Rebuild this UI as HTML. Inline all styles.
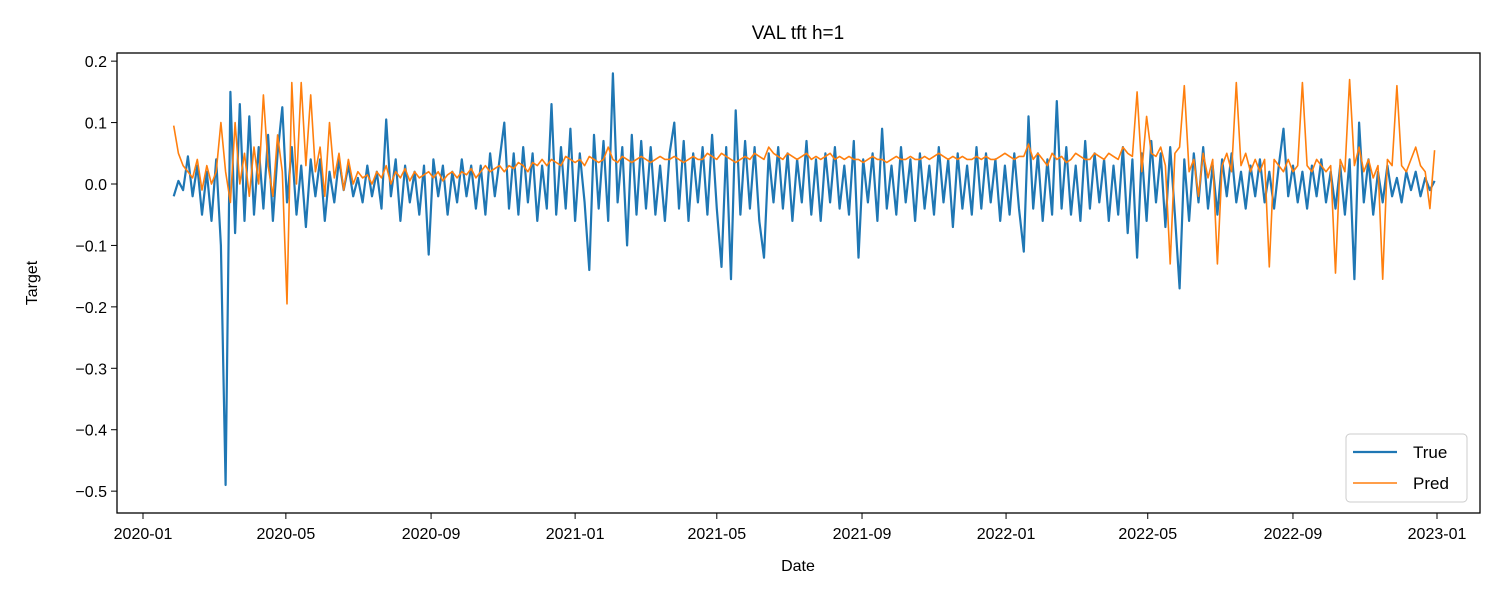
<!DOCTYPE html>
<html><head><meta charset="utf-8"><style>
html,body{margin:0;padding:0;background:#fff;}
svg text{font-family:"Liberation Sans","DejaVu Sans",sans-serif;fill:#000;}
</style></head><body>
<svg id="chart" width="1500" height="600" xmlns="http://www.w3.org/2000/svg">
<rect x="0" y="0" width="1500" height="600" fill="#fff"/>
<text x="798" y="39" font-size="19" text-anchor="middle">VAL tft h=1</text>
<g id="plot"></g>
<rect x="117" y="53" width="1363" height="460" fill="none" stroke="#000" stroke-width="1.3"/>
<g id="xticks"></g><g id="yticks"></g>
<text x="798" y="571" font-size="16" text-anchor="middle">Date</text>
<text transform="translate(37,283) rotate(-90)" font-size="16" text-anchor="middle">Target</text>
<g>
<rect x="1346" y="434" width="121" height="68" rx="4" fill="#fff" fill-opacity="0.85" stroke="#ccc" stroke-width="1"/>
<line x1="1353" y1="452" x2="1397" y2="452" stroke="#1f77b4" stroke-width="2.2"/>
<text x="1413" y="458" font-size="17">True</text>
<line x1="1353" y1="483" x2="1397" y2="483" stroke="#ff7f0e" stroke-width="1.6"/>
<text x="1413" y="489" font-size="17">Pred</text>
</g>
</svg>
<script>
const startDay = 26; // days after 2020-01-01
const stepDays = 4;
const xTickLabels = ["2020-01","2020-05","2020-09","2021-01","2021-05","2021-09","2022-01","2022-05","2022-09","2023-01"];
const xTickDays = [0,121,244,366,486,609,731,851,974,1096];
const yTickValues = [0.2,0.1,0.0,-0.1,-0.2,-0.3,-0.4,-0.5];
const trueValues = [
-0.02,0.005,-0.01,0.045,-0.02,0.03,-0.05,0.02,-0.06,0.04,
-0.1,-0.49,0.15,-0.08,0.13,-0.06,0.11,-0.05,0.06,-0.04,
0.08,-0.06,0.05,0.125,-0.03,0.06,-0.05,0.03,-0.07,0.04,
-0.02,0.04,-0.06,0.02,-0.03,0.04,-0.01,0.03,-0.02,0.01,
-0.03,0.03,-0.02,0.02,-0.04,0.105,-0.02,0.04,-0.06,0.03,
-0.03,0.02,-0.05,0.03,-0.115,0.04,-0.02,0.03,-0.05,0.02,
-0.03,0.04,-0.02,0.03,-0.04,0.03,-0.05,0.05,-0.02,0.04,
0.1,-0.04,0.05,-0.05,0.06,-0.03,0.05,-0.06,0.03,-0.04,
0.13,-0.05,0.06,-0.04,0.09,-0.06,0.05,-0.03,-0.14,0.08,
-0.04,0.07,-0.06,0.18,-0.03,0.06,-0.1,0.08,-0.05,0.07,
-0.04,0.06,-0.05,0.03,-0.06,0.05,0.1,-0.04,0.07,-0.06,
0.05,-0.03,0.06,-0.05,0.08,-0.04,-0.135,0.06,-0.155,0.12,
-0.05,0.07,-0.04,0.06,-0.06,-0.12,0.05,-0.03,0.06,-0.04,
0.05,-0.06,0.04,-0.03,0.07,-0.05,0.04,-0.06,0.05,-0.03,
0.06,-0.04,0.03,-0.05,0.07,-0.12,0.04,-0.03,0.05,-0.06,
0.09,-0.04,0.03,-0.05,0.06,-0.03,0.04,-0.06,0.05,-0.04,
0.03,-0.05,0.06,-0.03,0.04,-0.07,0.05,-0.04,0.03,-0.05,
0.06,-0.04,0.05,-0.03,0.04,-0.06,0.03,-0.05,0.05,-0.04,
-0.11,0.11,-0.04,0.05,-0.06,0.04,-0.05,0.135,-0.04,0.06,
-0.05,0.03,-0.06,0.07,-0.04,0.05,-0.03,0.04,-0.06,0.03,
-0.05,0.06,-0.08,0.04,-0.12,0.05,-0.06,0.07,-0.03,0.05,
-0.07,0.06,-0.05,-0.17,0.04,-0.06,0.05,-0.03,0.06,-0.04,
0.03,-0.05,0.04,-0.02,0.05,-0.03,0.02,-0.04,0.03,-0.02,
0.04,-0.03,0.02,-0.04,0.03,0.09,-0.02,0.03,-0.03,0.02,
-0.04,0.03,-0.02,0.04,-0.03,0.02,-0.04,0.03,-0.05,0.04,
-0.155,0.1,-0.03,0.04,-0.05,0.02,-0.03,0.03,-0.02,0.01,
-0.03,0.02,-0.01,0.02,-0.02,0.01,-0.01,0.005];
const predValues = [
0.095,0.05,0.03,0.02,0.01,0.04,-0.01,0.03,0.0,0.02,
0.1,0.02,-0.03,0.1,0.0,0.05,-0.02,0.06,0.0,0.145,
0.03,-0.02,0.08,0.02,-0.195,0.165,0.0,0.165,0.03,0.145,
0.02,0.06,-0.02,0.1,0.01,0.05,-0.01,0.04,0.0,0.02,
0.01,0.015,0.0,0.02,0.01,0.03,0.0,0.02,0.01,0.025,
0.005,0.02,0.01,0.015,0.02,0.01,0.02,0.005,0.015,0.02,
0.01,0.02,0.015,0.025,0.01,0.02,0.03,0.02,0.025,0.03,
0.02,0.03,0.025,0.035,0.03,0.02,0.035,0.03,0.04,0.03,
0.04,0.035,0.03,0.045,0.04,0.035,0.04,0.03,0.045,0.04,
0.035,0.04,0.06,0.04,0.035,0.045,0.04,0.035,0.04,0.045,
0.04,0.035,0.04,0.045,0.04,0.04,0.045,0.04,0.035,0.04,
0.045,0.04,0.04,0.05,0.045,0.04,0.05,0.045,0.04,0.035,
0.04,0.045,0.04,0.05,0.045,0.04,0.06,0.05,0.045,0.04,
0.05,0.045,0.04,0.045,0.05,0.04,0.045,0.04,0.045,0.05,
0.04,0.045,0.04,0.045,0.04,0.04,0.035,0.04,0.045,0.04,
0.04,0.035,0.04,0.045,0.04,0.04,0.045,0.04,0.04,0.045,
0.04,0.045,0.05,0.045,0.04,0.045,0.04,0.045,0.04,0.04,
0.045,0.04,0.045,0.04,0.04,0.045,0.05,0.045,0.04,0.045,
0.045,0.065,0.04,0.05,0.04,0.03,0.05,0.04,0.045,0.035,
0.04,0.05,0.045,0.04,0.04,0.05,0.045,0.04,0.05,0.045,
0.04,0.06,0.05,0.045,0.15,0.02,0.11,0.05,0.045,0.06,
0.03,-0.13,0.05,0.06,0.16,0.02,0.04,-0.02,0.05,0.01,
0.04,-0.13,0.03,0.05,0.02,0.165,0.03,0.05,0.02,0.04,
0.02,0.04,-0.135,0.04,0.03,0.02,0.04,0.02,0.03,0.165,
0.03,0.02,0.04,0.03,0.02,0.03,-0.145,0.04,0.02,0.17,
0.03,0.06,0.02,0.04,0.01,0.03,-0.155,0.04,0.03,0.16,
0.03,0.02,0.04,0.06,0.03,0.02,-0.04,0.055];

const NS = "http://www.w3.org/2000/svg";
function xScale(day){ return 143 + (day) * (1437 - 143) / 1096; }
function yScale(v){ return 184 - v * 614.3; }
function mk(tag, attrs, parent){
  const el = document.createElementNS(NS, tag);
  for (const k in attrs) el.setAttribute(k, attrs[k]);
  parent.appendChild(el); return el;
}
const plot = document.getElementById('plot');
function drawSeries(vals, color, w, name){
  const pts = vals.map((v,i)=> xScale(startDay + i*stepDays).toFixed(1) + ',' + yScale(v).toFixed(1)).join(' ');
  const pl = mk('polyline', {points: pts, fill:'none', stroke: color, 'stroke-width': w, 'stroke-linejoin':'round'}, plot);
  
  
}
drawSeries(trueValues, '#1f77b4', 2.2, 'true-series-line');
drawSeries(predValues, '#ff7f0e', 1.6, 'pred-series-line');

const xt = document.getElementById('xticks');
xTickDays.forEach((d,i)=>{
  const x = xScale(d);
  mk('line', {x1:x, y1:513, x2:x, y2:519, stroke:'#000', 'stroke-width':1}, xt);
  const t = mk('text', {x:x, y:539, 'font-size':16, 'text-anchor':'middle'}, xt);
  t.textContent = xTickLabels[i];
  
  
});
const yt = document.getElementById('yticks');
yTickValues.forEach(v=>{
  const y = yScale(v);
  mk('line', {x1:111, y1:y, x2:117, y2:y, stroke:'#000', 'stroke-width':1}, yt);
  const t = mk('text', {x:107, y:y+6, 'font-size':16, 'text-anchor':'end'}, yt);
  t.textContent = (v<0?'\u2212':'') + Math.abs(v).toFixed(1);
  
  
});
</script>
</body></html>
